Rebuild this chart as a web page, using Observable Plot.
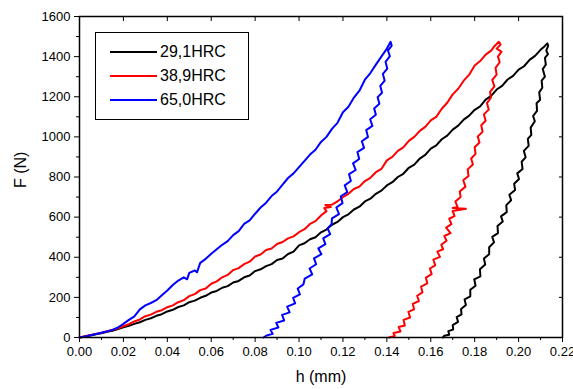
<!DOCTYPE html>
<html><head><meta charset="utf-8">
<script src="https://cdn.jsdelivr.net/npm/d3@7"></script>
<script src="https://cdn.jsdelivr.net/npm/@observablehq/plot@0.6"></script>
<style>
body{margin:0;background:#fff;}
#wrap{position:relative;width:573px;height:389px;font-family:"Liberation Sans",Arial,sans-serif;}
#legend{position:absolute;left:95px;top:32px;width:152px;height:86px;border:1.5px solid #000;background:#fff;}
.row{position:absolute;left:14px;height:20px;display:flex;align-items:center;font-size:16px;color:#000;white-space:nowrap;}
.sw{width:47px;height:0;border-top:2px solid;margin-right:3px;}
</style></head><body><div id="wrap"></div>
<script>
const xTicks = [0, 0.02, 0.04, 0.06, 0.08, 0.10, 0.12, 0.14, 0.16, 0.18, 0.20, 0.22];
const xMinor = [0.01, 0.03, 0.05, 0.07, 0.09, 0.11, 0.13, 0.15, 0.17, 0.19, 0.21];
const yTicks = [0, 200, 400, 600, 800, 1000, 1200, 1400, 1600];
const yMinor = [100, 300, 500, 700, 900, 1100, 1300, 1500];
const seriesNames = ["29,1HRC", "38,9HRC", "65,0HRC"];
const seriesColors = ["#000000", "#ff0000", "#0000ff"];

// [h (mm), F (N)] — loading then unloading
const hrc29 = [
[0,0],[0.0025,5],[0.005,10],[0.0075,16],[0.01,21],[0.0125,28],[0.015,34],[0.0175,42],[0.02,51],[0.0225,58],
[0.025,68],[0.0275,76],[0.03,88],[0.0325,96],[0.035,108],[0.0375,116],[0.04,130],[0.0425,138],[0.045,152],[0.0475,160],
[0.05,176],[0.0525,184],[0.055,198],[0.0575,208],[0.06,224],[0.0625,232],[0.065,248],[0.0675,256],[0.07,274],[0.0725,282],
[0.075,300],[0.0775,309],[0.08,331],[0.0825,340],[0.085,356],[0.0875,366],[0.09,386],[0.0925,394],[0.095,416],[0.0975,428],
[0.1,459],[0.1025,470],[0.105,490],[0.1075,500],[0.11,524],[0.1125,538],[0.115,562],[0.1175,576],[0.12,600],[0.1225,614],
[0.125,638],[0.1275,652],[0.13,678],[0.1325,692],[0.135,716],[0.1375,732],[0.14,758],[0.1425,774],[0.145,800],[0.1475,816],
[0.15,846],[0.1525,862],[0.155,892],[0.1575,910],[0.16,941],[0.1625,958],[0.165,988],[0.1675,1006],[0.17,1036],[0.1725,1056],
[0.175,1086],[0.1775,1106],[0.18,1135],[0.1825,1152],[0.185,1186],[0.1875,1204],[0.19,1236],[0.1925,1254],[0.195,1286],[0.1975,1304],
[0.2,1335],[0.2025,1352],[0.205,1384],[0.2075,1404],[0.21,1434],[0.2115,1448],[0.2131,1466],
[0.2135,1455],[0.2126,1430],[0.2134,1412],[0.2120,1394],[0.2124,1360],[0.2110,1338],[0.2120,1300],[0.2105,1280],[0.2108,1245],[0.2094,1222],
[0.2098,1185],[0.2082,1168],[0.2084,1130],[0.2066,1104],[0.2074,1078],[0.2055,1046],[0.2058,1010],[0.2042,990],[0.2046,955],[0.2024,930],
[0.2032,898],[0.2014,876],[0.2018,840],[0.1994,818],[0.2002,790],[0.1980,766],[0.1984,735],[0.1958,712],[0.1966,684],[0.1944,660],
[0.1946,625],[0.1920,604],[0.1928,578],[0.1904,556],[0.1906,520],[0.1880,502],[0.1888,474],[0.1866,450],[0.1866,415],[0.1842,394],
[0.1848,364],[0.1824,340],[0.1826,305],[0.1798,290],[0.1804,258],[0.1780,238],[0.1780,205],[0.1754,190],[0.1760,162],[0.1738,142],
[0.1740,115],[0.1718,102],[0.1724,78],[0.1700,62],[0.1702,40],[0.1680,32],[0.1684,14],[0.1662,9],[0.1655,0]
];
const hrc38 = [
[0,0],[0.0025,6],[0.005,12],[0.0075,18],[0.01,24],[0.0125,31],[0.015,38],[0.0175,46],[0.02,56],[0.0225,66],
[0.025,80],[0.0275,90],[0.03,106],[0.0325,114],[0.035,128],[0.0375,136],[0.04,151],[0.0425,160],[0.045,176],[0.0475,186],
[0.05,206],[0.0525,216],[0.055,236],[0.0575,244],[0.06,268],[0.0625,280],[0.065,300],[0.0675,312],[0.07,336],[0.0725,346],
[0.075,366],[0.0775,378],[0.08,404],[0.0825,414],[0.085,436],[0.0875,444],[0.09,466],[0.0925,476],[0.095,494],[0.0975,504],
[0.1,525],[0.1025,540],[0.105,566],[0.1075,580],[0.11,608],[0.1125,630],[0.1115,645],[0.1145,650],[0.1120,660],[0.115,662],
[0.1175,678],[0.12,700],[0.1225,716],[0.125,740],[0.1275,752],[0.13,780],[0.1325,796],[0.135,824],[0.1375,840],[0.14,883],
[0.1425,900],[0.145,930],[0.1475,948],[0.15,980],[0.1525,1000],[0.155,1030],[0.1575,1050],[0.16,1082],[0.1625,1100],[0.165,1140],
[0.1675,1170],[0.17,1212],[0.1725,1240],[0.175,1280],[0.1775,1310],[0.18,1356],[0.1825,1378],[0.185,1410],[0.1875,1430],[0.189,1452],
[0.191,1474],
[0.1918,1460],[0.1900,1440],[0.1922,1425],[0.1906,1400],[0.1914,1372],[0.1895,1344],[0.1900,1310],[0.1880,1284],[0.1890,1252],[0.1870,1224],
[0.1874,1195],[0.1856,1168],[0.1864,1136],[0.1842,1112],[0.1850,1080],[0.1830,1058],[0.1836,1025],[0.1814,1002],[0.1822,972],[0.1800,948],
[0.1804,915],[0.1784,892],[0.1792,862],[0.1768,838],[0.1772,805],[0.1748,784],[0.1758,752],[0.1732,728],[0.1736,700],[0.1712,678],
[0.1722,650],[0.1700,645],[0.1760,642],[0.1700,630],[0.1708,605],[0.1684,592],[0.1694,565],[0.1670,548],[0.1690,520],[0.1662,506],
[0.1672,482],[0.1648,462],[0.1656,440],[0.1630,428],[0.1642,402],[0.1612,388],[0.1620,360],[0.1596,344],[0.1604,316],[0.1578,298],
[0.1584,270],[0.1556,254],[0.1562,225],[0.1538,208],[0.1546,182],[0.1518,168],[0.1524,140],[0.1498,128],[0.1506,100],[0.1476,88],
[0.1482,60],[0.1454,52],[0.1462,30],[0.1430,22],[0.1436,8],[0.1410,0]
];
const hrc65 = [
[0,0],[0.0025,5],[0.005,11],[0.0075,17],[0.01,24],[0.0125,30],[0.015,38],[0.0175,50],[0.02,68],[0.0225,88],
[0.025,105],[0.0275,140],[0.03,160],[0.0325,172],[0.035,186],[0.0375,210],[0.04,234],[0.0425,262],[0.045,284],[0.0475,300],
[0.049,290],[0.05,322],[0.0525,334],[0.0535,325],[0.055,372],[0.0575,392],[0.06,417],[0.0625,440],[0.065,462],[0.0675,480],
[0.07,510],[0.0725,530],[0.075,566],[0.0775,584],[0.08,617],[0.0825,648],[0.085,672],[0.0875,705],[0.09,728],[0.0925,762],
[0.095,795],[0.0975,818],[0.1,849],[0.1025,880],[0.105,912],[0.1075,936],[0.11,975],[0.1125,1000],[0.115,1040],[0.1175,1070],
[0.12,1123],[0.1225,1150],[0.125,1196],[0.1275,1230],[0.13,1285],[0.1325,1318],[0.135,1360],[0.1375,1400],[0.14,1440],[0.1417,1474],
[0.1422,1455],[0.1405,1430],[0.1414,1402],[0.1394,1374],[0.1402,1340],[0.1382,1314],[0.1390,1280],[0.1370,1254],[0.1378,1220],[0.1358,1198],
[0.1366,1165],[0.1342,1142],[0.1350,1110],[0.1324,1088],[0.1334,1055],[0.1306,1034],[0.1314,1000],[0.1286,978],[0.1296,945],[0.1266,924],
[0.1274,890],[0.1246,868],[0.1258,835],[0.1228,814],[0.1236,780],[0.1208,758],[0.1220,725],[0.1190,704],[0.1198,670],[0.1170,648],
[0.1182,615],[0.1150,594],[0.1148,565],[0.1130,544],[0.1142,515],[0.1110,494],[0.1120,465],[0.1088,444],[0.1102,415],[0.1068,394],
[0.1078,365],[0.1048,344],[0.1060,315],[0.1026,294],[0.1020,265],[0.0994,244],[0.1004,215],[0.0973,198],[0.0982,170],[0.0946,154],
[0.0957,125],[0.0923,113],[0.0932,85],[0.0896,73],[0.0906,50],[0.0870,38],[0.0880,18],[0.0852,10],[0.0838,0]
];
const curves = [hrc29, hrc38, hrc65];

const font = '"Liberation Sans", Arial, sans-serif';
const chart = Plot.plot({
  width: 573, height: 389,
  marginLeft: 79, marginRight: 11, marginTop: 16, marginBottom: 52,
  style: {fontFamily: font, fontSize: "13px", color: "#000", background: "#fff"},
  x: {domain: [0, 0.22]},
  y: {domain: [0, 1600]},
  marks: [
    Plot.axisX({ticks: xMinor, tickSize: 3, tickFormat: () => "", label: null}),
    Plot.axisX({ticks: xTicks, tickSize: 5, tickPadding: 4, tickFormat: d3.format(".2f"), label: null, fill: "#000"}),
    Plot.axisY({ticks: yMinor, tickSize: 3, tickFormat: () => "", label: null}),
    Plot.axisY({ticks: yTicks, tickSize: 5, tickPadding: 4, tickFormat: d3.format("d"), label: null, fill: "#000"}),
    Plot.axisX({anchor: "top", ticks: xTicks, tickSize: 4, tickFormat: () => "", label: null, dy: 4}),
    Plot.axisY({anchor: "right", ticks: yTicks, tickSize: 4, tickFormat: () => "", label: null, dx: -4}),
    ...curves.map((c, i) => Plot.line(c, {x: d => d[0], y: d => d[1], stroke: seriesColors[i], strokeWidth: 2})),
    Plot.frame({stroke: "#000", strokeWidth: 1.5}),
    Plot.text(["h (mm)"], {text: d => d, frameAnchor: "bottom", dy: 44, fontSize: 16, fill: "#000"}),
    Plot.text(["F (N)"], {text: d => d, frameAnchor: "left", dx: -59, dy: 11, rotate: -90, fontSize: 16, fill: "#000"})
  ]
});
const wrap = document.getElementById("wrap");
wrap.appendChild(chart);
const leg = document.createElement("div");
leg.id = "legend";
seriesNames.forEach((n, i) => {
  const r = document.createElement("div");
  r.className = "row";
  r.style.top = (9 + i * 24) + "px";
  const sw = document.createElement("span");
  sw.className = "sw";
  sw.style.borderTopColor = seriesColors[i];
  r.appendChild(sw);
  r.appendChild(document.createTextNode(n));
  leg.appendChild(r);
});
wrap.appendChild(leg);
</script>
</body></html>
